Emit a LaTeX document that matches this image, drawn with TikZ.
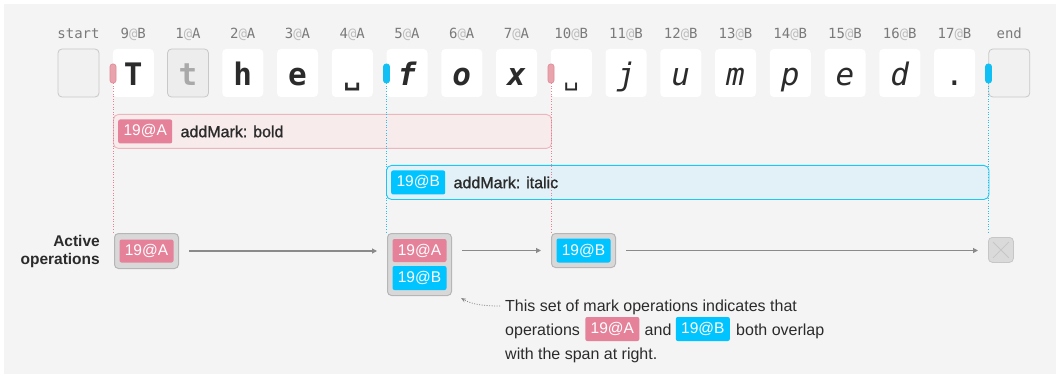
\documentclass[tikz,border=0pt]{standalone}
\usepackage{fontspec}
\setmainfont{Liberation Sans}
\newfontfamily\monof{DejaVu Sans Mono}
\newfontfamily\symf{DejaVu Sans}
\newfontfamily\medf[FakeBold=1.2]{Liberation Sans}
\usetikzlibrary{arrows.meta,calc}
\definecolor{bg}{HTML}{F4F4F4}
\definecolor{ink}{HTML}{2B2B2B}
\definecolor{labgray}{HTML}{7A7A7A}
\definecolor{atgray}{HTML}{BDBDBD}
\definecolor{emptyfill}{HTML}{F1F1F1}
\definecolor{emptyline}{HTML}{C8C8C8}
\definecolor{tfill}{HTML}{EDEDED}
\definecolor{tink}{HTML}{A9A9A9}
\definecolor{pinktag}{HTML}{E5829A}
\definecolor{bluetag}{HTML}{00C4FF}
\definecolor{pinkmk}{HTML}{E8A4AC}
\definecolor{pinkmkl}{HTML}{E08896}
\definecolor{bluemk}{HTML}{10BFF4}
\definecolor{pinkdot}{HTML}{EA7F95}
\definecolor{bluedot}{HTML}{22BFF0}
\definecolor{boldfill}{HTML}{F7EBEC}
\definecolor{boldline}{HTML}{EDB5BC}
\definecolor{italfill}{HTML}{E1F1F7}
\definecolor{italline}{HTML}{1AC8F5}
\definecolor{opsfill}{HTML}{D8D8D8}
\definecolor{opsline}{HTML}{B6B6B6}
\definecolor{arrowgray}{HTML}{8A8A8A}
\definecolor{xfill}{HTML}{DADADA}
\definecolor{xline}{HTML}{C6C6C6}
\newcommand\atc{{\color{atgray}@}}
\begin{document}
\begin{tikzpicture}[x=1pt,y=-1pt,
  charbox/.style={fill=white, rounded corners=4pt, minimum width=41pt, minimum height=48pt, inner sep=0pt},
  emptybox/.style={charbox, fill=emptyfill, draw=emptyline, line width=0.8pt},
  tbox/.style={charbox, fill=tfill, draw=emptyline, line width=0.8pt},
  lab/.style={font=\monof\fontsize{14}{14}\selectfont, text=labgray, anchor=base, inner sep=0pt},
  bigb/.style={font=\monof\bfseries\fontsize{31}{31}\selectfont, text=ink, anchor=base, inner sep=0pt},
  bigbi/.style={font=\monof\bfseries\itshape\fontsize{31}{31}\selectfont, text=ink, anchor=base, inner sep=0pt},
  bigi/.style={font=\monof\itshape\fontsize{31}{31}\selectfont, text=ink, anchor=base, inner sep=0pt},
  bigr/.style={font=\monof\fontsize{31}{31}\selectfont, text=ink, anchor=base, inner sep=0pt},
  spb/.style={font=\symf\bfseries\fontsize{24}{24}\selectfont, text=ink, anchor=base, inner sep=0pt},
  spr/.style={font=\symf\fontsize{24}{24}\selectfont, text=ink, anchor=base, inner sep=0pt},
  markbox/.style={rounded corners=2.5pt, minimum width=6pt, minimum height=19pt, inner sep=0pt, line width=0.6pt},
  pinkmark/.style={markbox, fill=pinkmk, draw=pinkmkl},
  bluemark/.style={markbox, fill=bluemk, draw=bluemk},
  dotline/.style={line width=0.8pt, dash pattern=on 1pt off 1.6pt},
  tag/.style={rounded corners=2pt, minimum width=54pt, minimum height=24pt, inner sep=0pt, text=white, font=\fontsize{15.5}{15.5}\selectfont},
  pinktagst/.style={tag, fill=pinktag},
  bluetagst/.style={tag, fill=bluetag},
  span/.style={rounded corners=5pt, minimum height=34pt, inner sep=0pt, line width=0.9pt, anchor=north west},
  optext/.style={font=\medf\fontsize{16}{16}\selectfont, text=ink, anchor=west, inner sep=0pt},
  ops/.style={fill=opsfill, draw=opsline, line width=1pt, rounded corners=4pt, inner sep=0pt, minimum width=64pt, anchor=north west},
  flow/.style={draw=arrowgray, line width=1.1pt, -{Triangle[length=5pt,width=5pt]}},
  ann/.style={font=\fontsize{16}{16}\selectfont, text=ink, anchor=base west, inner sep=0pt}
]
\useasboundingbox (0,0) rectangle (1056,374);
\fill[bg] (4,4) rectangle (1056,374);

% character boxes
\node[emptybox] (c0) at (78.5,73) {};
\foreach \i in {1,3,4,5,6,7,8,9,10,11,12,13,14,15,16}
  \node[charbox] (c\i) at ({78.5+54.75*\i},73) {};
\node[tbox] (c2) at ({78.5+54.75*2},73) {};
\node[emptybox] (c17) at ({78.5+54.75*17},73) {};

% labels
\node[lab] (l0) at ($(c0)+(0,-34)$) {start};
\foreach \i/\t in {1/9\atc B,2/1\atc A,3/2\atc A,4/3\atc A,5/4\atc A,6/5\atc A,7/6\atc A,8/7\atc A,9/10\atc B,10/11\atc B,11/12\atc B,12/13\atc B,13/14\atc B,14/15\atc B,15/16\atc B,16/17\atc B}
  \node[lab] (l\i) at ($(c\i)+(0,-34)$) {\t};
\node[lab] (l17) at ($(c17)+(0,-34)$) {end};

% characters
\node[bigb] (g1) at ($(c1)+(0,13)$) {T};
\node[bigb, text=tink] (g2) at ($(c2)+(0,13)$) {t};
\node[bigb] (g3) at ($(c3)+(0,13)$) {h};
\node[bigb] (g4) at ($(c4)+(0,13)$) {e};
\node[spb] (g5) at ($(c5)+(0,13)$) {␣};
\node[bigbi] (g6) at ($(c6)+(0,13)$) {f};
\node[bigbi] (g7) at ($(c7)+(0,13)$) {o};
\node[bigbi] (g8) at ($(c8)+(0,13)$) {x};
\node[spr] (g9) at ($(c9)+(0,13)$) {␣};
\node[bigi] (g10) at ($(c10)+(0,13)$) {j};
\node[bigi] (g11) at ($(c11)+(0,13)$) {u};
\node[bigi] (g12) at ($(c12)+(0,13)$) {m};
\node[bigi] (g13) at ($(c13)+(0,13)$) {p};
\node[bigi] (g14) at ($(c14)+(0,13)$) {e};
\node[bigi] (g15) at ($(c15)+(0,13)$) {d};
\node[bigr] (g16) at ($(c16)+(0,13)$) {.};

% active operation boxes
\node[ops, minimum height=35pt] (o1) at (114,233) {};
\node[ops, minimum height=62pt] (o2) at (387,233) {};
\node[ops, minimum height=34pt] (o3) at (551,233) {};
\node[fill=xfill, draw=xline, line width=0.8pt, rounded corners=4pt, minimum width=25pt, minimum height=25pt, inner sep=0pt, anchor=north west] (o4) at (988,237) {};
\draw[xline, line width=0.8pt] ($(o4.north west)+(5,5)$) -- ($(o4.south east)+(-5,-5)$);
\draw[xline, line width=0.8pt] ($(o4.north east)+(-5,5)$) -- ($(o4.south west)+(5,-5)$);

% spans
\node[span, fill=boldfill, draw=boldline, minimum width=438pt] (sb) at (113,114) {};
\node[span, fill=italfill, draw=italline, minimum width=602.5pt] (si) at (386,165) {};

% markers
\node[pinkmark] (m1) at (113,73.5) {};
\node[bluemark] (m2) at (386.5,73.5) {};
\node[pinkmark] (m3) at (551,73.5) {};
\node[bluemark] (m4) at (988.5,73.5) {};

% dotted guide lines
\draw[dotline, pinkdot] (m1.south) -- (m1.south |- o1.north);
\draw[dotline, bluedot] (m2.south) -- (m2.south |- o2.north);
\draw[dotline, pinkdot] (m3.south) -- (m3.south |- o3.north);
\draw[dotline, bluedot, shorten >=5pt] (m4.south) -- (m4.south |- o4.north);

% span labels
\node[pinktagst, anchor=west] (ta) at ($(sb.west)+(5,0)$) {19@A};
\node[optext] (tat) at ($(ta.east)+(8,0)$) {addMark: bold};
\node[bluetagst, anchor=west] (tb) at ($(si.west)+(5,0)$) {19@B};
\node[optext] (tbt) at ($(tb.east)+(8,0)$) {addMark: italic};

% tags in operation boxes
\node[pinktagst, minimum height=23pt] (o1a) at (o1) {19@A};
\node[pinktagst, minimum height=23pt] (o2a) at ($(o2.north)+(0,17.5)$) {19@A};
\node[bluetagst, minimum height=24pt] (o2b) at ($(o2.north)+(0,45)$) {19@B};
\node[bluetagst, minimum height=24pt] (o3b) at (o3) {19@B};

% flow arrows
\draw[flow, shorten <=10pt, shorten >=10pt] (o1.east) -- (o1.east -| o2.west);
\draw[flow, shorten <=10pt, shorten >=10pt] (o3.west -| o2.east) -- (o3.west);
\draw[flow, shorten <=10pt, shorten >=10pt] (o3.east) -- (o3.east -| o4.west);

% row label
\node[font=\bfseries\fontsize{15.5}{18}\selectfont, text=ink, align=right, anchor=east, inner sep=0pt] (act) at (100,251) {Active\\operations};

% annotation
\node[ann] (a1) at (505,311) {This set of mark operations indicates that};
\node[ann] (a2) at (505,335) {operations};
\node[pinktagst, anchor=west] (a2t) at ($(a2.base east)+(5,-6)$) {19@A};
\node[ann] (a2b) at ($(a2t.east)+(5,6)$) {and};
\node[bluetagst, anchor=west] (a2u) at ($(a2b.base east)+(4,-6)$) {19@B};
\node[ann] (a2c) at ($(a2u.east)+(6,6)$) {both overlap};
\node[ann] (a3) at (505,359) {with the span at right.};
\coordinate (cs) at ($(a1.base west)+(-5,-5)$);
\coordinate (ce) at ($(o2.south east)+(9,2)$);
\draw[arrowgray, line width=0.8pt, dash pattern=on 1pt off 1.5pt, -{Stealth[length=5pt,width=4pt]}] (cs) .. controls +(-18,0) and +(10,6) .. (ce);
\end{tikzpicture}
\end{document}
